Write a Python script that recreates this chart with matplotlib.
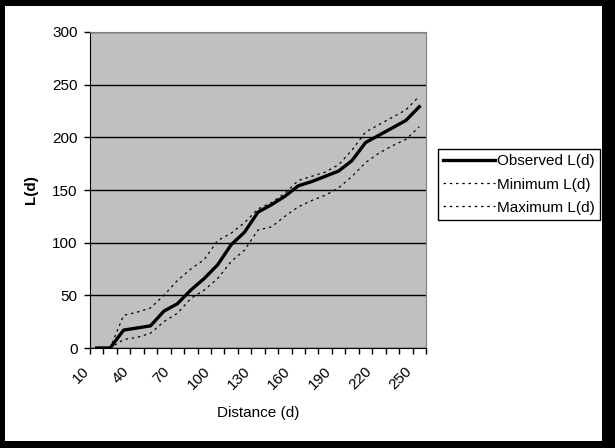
# L(d) function plot: observed vs min/max envelope
import matplotlib
matplotlib.use("Agg")
import matplotlib.pyplot as plt
import matplotlib.transforms as mtransforms
from matplotlib.patches import Rectangle

# data
distance = [10, 20, 30, 40, 50, 60, 70, 80, 90, 100, 110, 120, 130,
            140, 150, 160, 170, 180, 190, 200, 210, 220, 230, 240, 250]
observed = [0, 0, 17, 19, 21, 35, 42, 55, 66, 79, 98, 110, 129,
            136, 144, 154, 158, 163, 168, 178, 195, 202, 209, 216, 229]
minimum = [0, 0, 8, 10, 14, 25, 33, 47, 55, 66, 82, 93, 112,
           115, 125, 134, 140, 145, 152, 163, 176, 185, 192, 198, 210]
maximum = [0, 0, 31, 34, 38, 50, 64, 75, 84, 102, 109, 119, 132,
           138, 147, 159, 163, 167, 174, 188, 205, 212, 219, 226, 239]
label_every = 3

plt.rcParams["font.family"] = ["Liberation Sans", "DejaVu Sans"]
plt.rcParams["font.size"] = 11

fig = plt.figure(figsize=(6.15, 4.48), dpi=100)
W, H = 615, 448

# black frame with white inside
fig.patches.append(Rectangle((0, 0), 1, 1, transform=fig.transFigure,
                             facecolor="black", edgecolor="none", zorder=-10))
fig.patches.append(Rectangle((5 / W, 7 / H), (602 - 5) / W, (442 - 7) / H,
                             transform=fig.transFigure,
                             facecolor="white", edgecolor="none", zorder=-9))

ax = fig.add_axes([90 / W, 1 - 348 / H, (426 - 90) / W, (348 - 32) / H])
ax.set_facecolor("#c0c0c0")

x = list(range(len(distance)))
ax.plot(x, observed, color="black", lw=2.4, label="Observed L(d)", zorder=3)
ax.plot(x, minimum, color="black", lw=0.9, ls=(0, (2, 3)), label="Minimum L(d)", zorder=3)
ax.plot(x, maximum, color="black", lw=0.9, ls=(0, (2, 3)), label="Maximum L(d)", zorder=3)

ax.set_xlim(-0.5, len(distance) - 0.5)
ax.set_ylim(0, 300)
ax.set_yticks(range(0, 301, 50))
ax.yaxis.grid(True, color="black", lw=1)
ax.set_axisbelow(True)

# category boundaries get the tick marks, labels sit on every third category
ax.set_xticks([i - 0.5 for i in range(len(distance) + 1)])
ax.set_xticklabels([])
ax.set_xticks(x[::label_every], minor=True)
ax.set_xticklabels([str(d) for d in distance[::label_every]], minor=True,
                   rotation=45, ha="right", va="top")
ax.tick_params(axis="x", which="major", direction="out", length=4, width=1, color="black")
ax.tick_params(axis="x", which="minor", length=0, pad=12)
ax.tick_params(axis="y", direction="out", length=4, width=1, pad=5)
shift = mtransforms.ScaledTranslation(-5 / 100, 0, fig.dpi_scale_trans)
for lab in ax.get_xticklabels(minor=True):
    lab.set_transform(lab.get_transform() + shift)

for side in ["top", "right"]:
    ax.spines[side].set_color("#808080")
for side in ["left", "bottom"]:
    ax.spines[side].set_color("black")

ax.set_xlabel("Distance (d)", labelpad=10)
ax.set_ylabel("L(d)", fontweight="bold", labelpad=10)

leg = fig.legend(loc="upper left", bbox_to_anchor=(438 / W, 1 - 149 / H),
                 borderaxespad=0, fancybox=False, edgecolor="black",
                 handlelength=3.4, handletextpad=0.1, labelspacing=0.6,
                 borderpad=0.35, framealpha=1)
leg.get_frame().set_linewidth(1)

fig.savefig("out.png", dpi=100)
